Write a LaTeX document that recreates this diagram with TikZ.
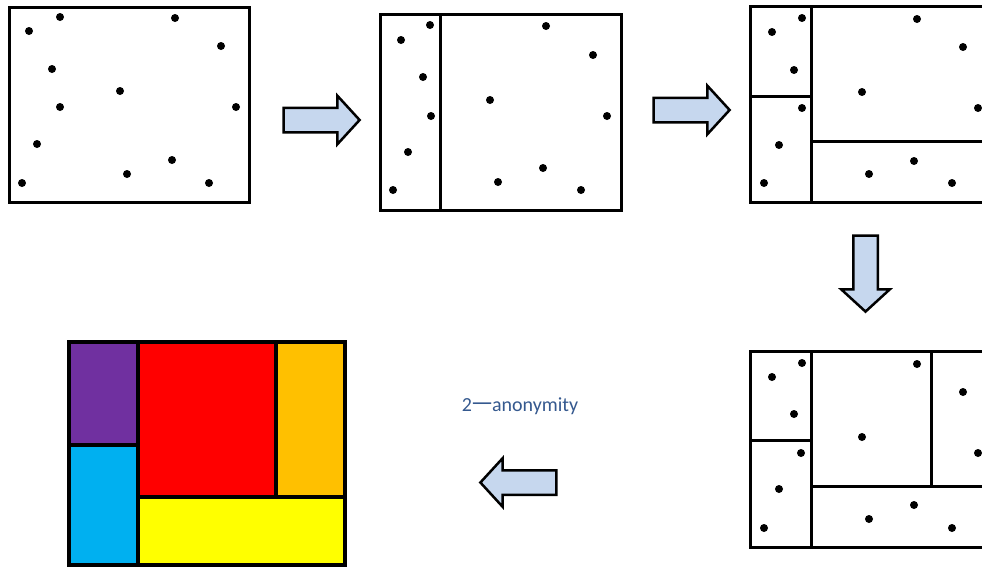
\documentclass[tikz,border=0pt]{standalone}
\usepackage{fontspec}
\newfontfamily\labelfont{Carlito}
\newfontfamily\cjk{Noto Sans CJK SC}
\usetikzlibrary{shapes.arrows}
\definecolor{arrowblue}{HTML}{C6D7EE}
\definecolor{textblue}{HTML}{35598F}
\definecolor{cpurple}{HTML}{7030A0}
\definecolor{cblue}{HTML}{00B0F0}
\definecolor{cred}{HTML}{FF0000}
\definecolor{corange}{HTML}{FFC000}
\definecolor{cyellow}{HTML}{FFFF00}
\tikzstyle{frame} = [draw=black, line width=3pt]
\tikzstyle{cell} = [draw=black, line width=3.5pt]
\tikzstyle{blockarrow} = [single arrow, draw=black, fill=arrowblue, line width=2.5pt,
minimum height=76pt, single arrow head extend=12pt, inner sep=11pt,
single arrow tip angle=95, outer sep=0pt]
\tikzstyle{caption} = [font=\labelfont\fontsize{20}{20}\selectfont, text=textblue]
\newcommand{\pointset}[1]{ %
  % one dot at every point of #1
  \foreach \p in {#1} { %
    \fill[black] \p circle (4pt) ;%
  } ;
}
\begin{document}
\begin{tikzpicture}[x=1pt, y=-1pt]
\clip (0,0) rectangle (982,568);
\fill[white] (0,0) rectangle (982,568);

% step 1: all points
\draw[frame] (9,7) rectangle (249,202);
\pointset{(29,31),(60,17),(175,18),(221,46),(52,69),(120,91),(60,107),(236,107),(37,144),(22,183),(127,174),(172,160),(209,183)}

\node[blockarrow] (arr1) at (316,120) {};

% step 2: first cut
\draw[frame] (380,14) rectangle (621,210);
\draw[frame] (440,14) -- (440,210);
\pointset{(430,25),(401,40),(423,77),(431,116),(408,152),(393,190),(546,26),(593,55),(490,100),(607,116),(498,182),(543,168),(581,190)}

\node[blockarrow] (arr2) at (686,110) {};

% step 3: second cut
\draw[frame] (750,6) rectangle (1000,202);
\draw[frame] (811,6) -- (811,202);
\draw[frame] (750,96) -- (811,96);
\draw[frame] (811,141) -- (1000,141);
\pointset{(802,18),(772,32),(794,70),(802,108),(779,145),(764,183),(917,19),(963,47),(862,92),(978,108),(869,174),(914,161),(952,183)}

\node[blockarrow, rotate=-90] (arr3) at (865.5,268) {};

% step 4: third cut
\draw[frame] (750,351) rectangle (1000,547);
\draw[frame] (811,351) -- (811,547);
\draw[frame] (750,440) -- (811,440);
\draw[frame] (811,486) -- (1000,486);
\draw[frame] (931,351) -- (931,486);
\pointset{(802,363),(772,377),(794,414),(862,437),(917,364),(963,392),(978,453),(801,453),(779,489),(764,528),(869,519),(914,505),(952,528)}

\node[blockarrow, rotate=180] (arr4) at (524,482.5) {};
\node[caption] (lbl) at (520,406) {2{\cjk 一}anonymity};

% result: coloured regions
\fill[cpurple] (69,342) rectangle (138,445);
\fill[cblue] (69,445) rectangle (138,565);
\fill[cred] (138,342) rectangle (276,497);
\fill[corange] (276,342) rectangle (345,497);
\fill[cyellow] (138,497) rectangle (345,565);
\draw[cell] (69,342) rectangle (345,565);
\draw[cell] (138,342) -- (138,565);
\draw[cell] (69,445) -- (138,445);
\draw[cell] (138,497) -- (345,497);
\draw[cell] (276,342) -- (276,497);
\end{tikzpicture}
\end{document}
